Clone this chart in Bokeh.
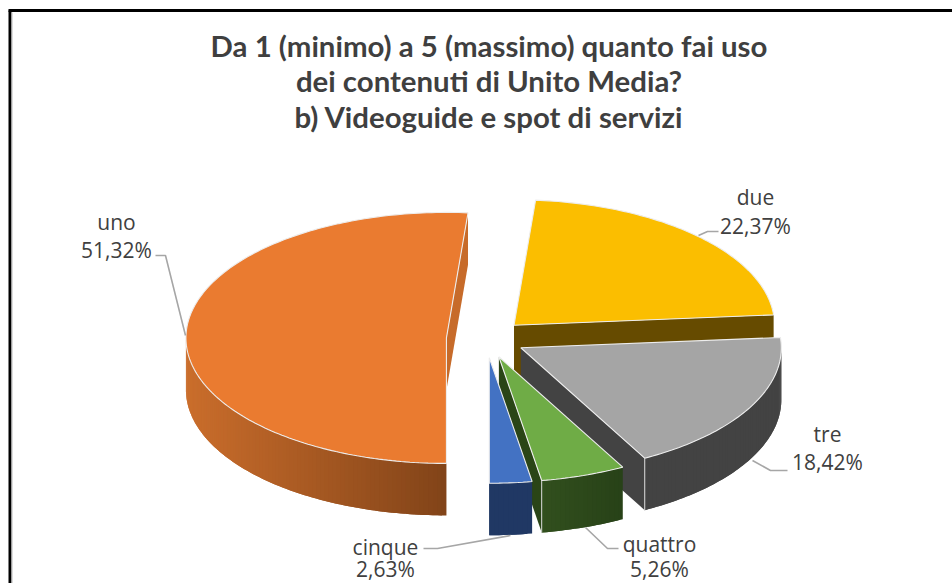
import math
from bokeh.plotting import figure
from bokeh.models import Range1d
from bokeh.embed import file_html
from bokeh.resources import INLINE

# ---- data ----
categories = ["uno", "due", "tre", "quattro", "cinque"]
values = [51.32, 22.37, 18.42, 5.26, 2.63]
title_lines = ["Da 1 (minimo) a 5 (massimo) quanto fai uso",
               "dei contenuti di Unito Media?",
               "b) Videoguide e spot di servizi"]

# ---- styling ----
top_colors = ["#EA7B30", "#FBBE00", "#A5A5A5", "#6FAC46", "#4372C3"]
face_colors = ["#C76B2A", "#664B00", "#434343", "#2A4517", "#203864"]
wall_left = [(203, 110, 44), (102, 75, 0), (67, 67, 67), (50, 80, 30), (32, 56, 100)]
wall_right = [(130, 68, 25), (102, 75, 0), (67, 67, 67), (40, 66, 24), (32, 56, 100)]
TEXT = "#404040"
LEADER = "#A6A6A6"
FONT = "Open Sans"

# ---- pie geometry ----
CX, CY = 485.5, 338.2
RX, RY = 260.5, 125.5
DEPTH = 52
EXPLODE = 39.6
START = 180.0

label_pos = [(116, 221, 249), (755, 196, 225), (827, 433, 461), (659, 543, 568.5), (385, 546, 568.5)]
leaders = [
    [(155, 255), (165, 255), (185, 335)],
    [(718, 231), (707, 231), (698, 235)],
    [(787, 470), (770, 470), (752, 460)],
    [(618, 548), (607, 548), (585, 527)],
    [(423, 548), (437, 548), (510, 535)],
]

p = figure(width=952, height=583, output_backend="svg", toolbar_location=None,
           x_range=Range1d(0, 952), y_range=Range1d(583, 0), min_border=0,
           background_fill_color="white", border_fill_color="white")
p.axis.visible = False
p.grid.visible = False
p.outline_line_color = None

# chart frame (open to the right and the bottom)
p.line([9.5, 9.5], [583, 10], line_color="#000000", line_width=3)
p.line([8, 952], [10, 10], line_color="#000000", line_width=3)
p.line([11.5, 11.5], [583, 12], line_color="#BBBBBB", line_width=1)


def pt(a, phi):
    r = math.radians(phi)
    return a[0] + RX * math.sin(r), a[1] - RY * math.cos(r)


def arc(a, p0, p1):
    n = max(2, int(abs(p1 - p0)))
    return [pt(a, p0 + (p1 - p0) * i / n) for i in range(n + 1)]


def quad(pts, color, line=None, lw=0.0):
    p.patch([q[0] for q in pts], [q[1] for q in pts], fill_color=color,
            line_color=line if line else color, line_width=lw, line_alpha=1 if line else 0)


cum = START
for i, v in enumerate(values):
    sweep = v * 3.6
    p0, p1 = cum, cum + sweep
    cum = p1
    if p0 >= 360:
        p0 -= 360
        p1 -= 360
    mid = math.radians((p0 + p1) / 2)
    a = (CX + EXPLODE * math.sin(mid), CY - EXPLODE * RY / RX * math.cos(mid))
    down = lambda q: (q[0], q[1] + DEPTH)

    # cut faces that look toward the viewer
    for phi, sign in ((p0, -1), (p1, 1)):
        d = math.radians(phi + sign * 90)
        if -math.cos(d) > 0.02:
            e = pt(a, phi)
            quad([a, e, down(e), down(a)], face_colors[i])

    # outer wall, front half only, in narrow overlapping strips for the shading
    lo, hi = max(p0, 90), min(p1, 270)
    if lo < hi:
        pts = arc(a, lo, hi)
        xs = [q[0] for q in pts]
        x0, x1 = min(xs), max(xs)
        for j in range(len(pts) - 1):
            q0, q1 = pts[j], pts[j + 1]
            q2 = pts[min(j + 2, len(pts) - 1)]
            t = ((q0[0] + q1[0]) / 2 - x0) / max(x1 - x0, 1)
            c = tuple(int(l + (r - l) * t) for l, r in zip(wall_left[i], wall_right[i]))
            col = "#%02X%02X%02X" % c
            quad([q0, q1, q2, down(q2), down(q1), down(q0)], col)

    # corner highlight on the two front slices
    if i in (2, 3):
        e = pt(a, p1)
        p.line([e[0], e[0]], [e[1], e[1] + DEPTH], line_color="#D9D9D9", line_width=1)

    # top face
    outline = [a] + arc(a, p0, p1)
    quad(outline, top_colors[i], line="#EDEDED", lw=1.1)

# leader lines
for seg in leaders:
    p.line([q[0] for q in seg], [q[1] for q in seg], line_color=LEADER, line_width=1.6)

# labels
for name, v, (x, y1, y2) in zip(categories, values, label_pos):
    pct = f"{v:.2f}".replace(".", ",") + "%"
    p.text([x], [y1], text=[name], text_font={"value": FONT}, text_font_size="21px",
           text_color=TEXT, text_align="center", text_baseline="middle")
    p.text([x], [y2], text=[pct], text_font={"value": FONT}, text_font_size="21px",
           text_color=TEXT, text_align="center", text_baseline="middle")

# title
for line, y in zip(title_lines, (45, 80, 116)):
    p.text([488.5], [y], text=[line], text_font={"value": "Lato"}, text_font_size="29.4px",
           text_font_style="bold", text_color="#3F3F3F", text_align="center", text_baseline="middle")

open("out.html", "w").write(file_html(p, INLINE))
